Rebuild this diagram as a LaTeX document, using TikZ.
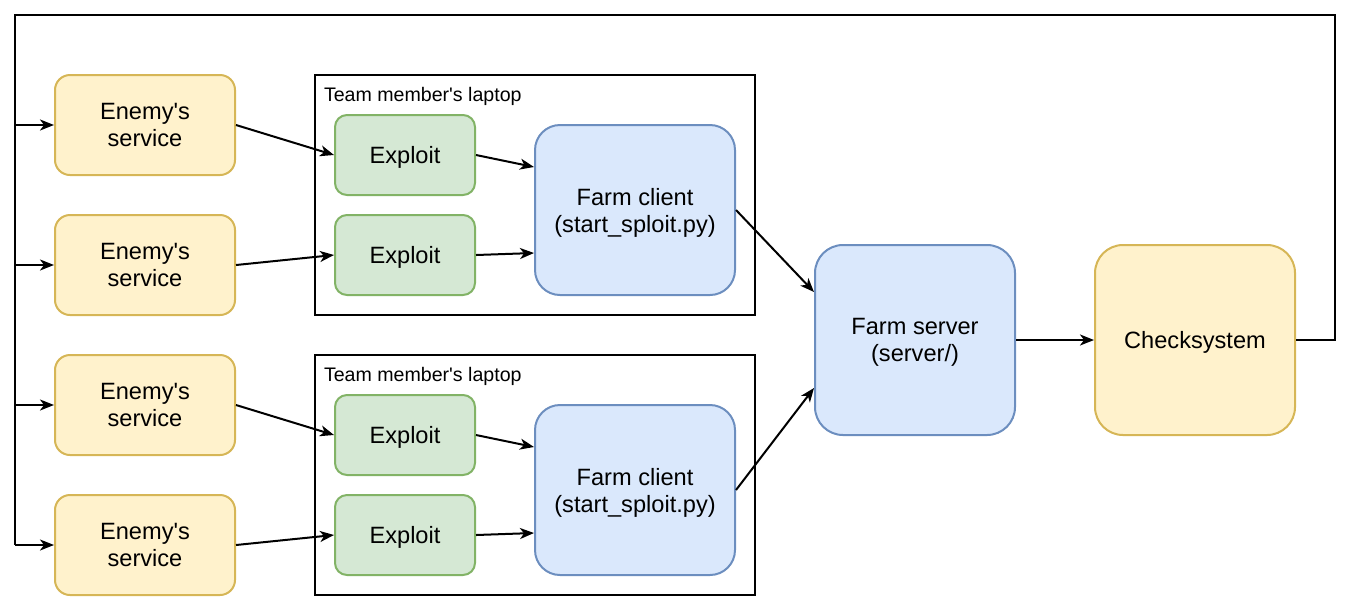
\documentclass[tikz,border=0pt]{standalone}
\usepackage{fontspec}
\setmainfont{Liberation Sans}
\usetikzlibrary{arrows.meta,calc}
\definecolor{yfill}{HTML}{FFF2CC}
\definecolor{ydraw}{HTML}{D6B656}
\definecolor{gfill}{HTML}{D5E8D4}
\definecolor{gdraw}{HTML}{82B366}
\definecolor{bfill}{HTML}{DAE8FC}
\definecolor{bdraw}{HTML}{6C8EBF}
\begin{document}
\begin{tikzpicture}[x=0.5pt,y=-0.5pt,line width=1pt,
  box/.style={draw,inner sep=0pt,align=center,text depth=0pt,font=\fontsize{11.8pt}{13.5pt}\selectfont},
  enemy/.style={box,fill=yfill,draw=ydraw,rounded corners=7.5pt,minimum width=90pt,minimum height=50pt},
  exploit/.style={box,fill=gfill,draw=gdraw,rounded corners=6pt,minimum width=70pt,minimum height=40pt},
  client/.style={box,fill=bfill,draw=bdraw,rounded corners=12.5pt,minimum width=100pt,minimum height=85pt},
  server/.style={box,rounded corners=14pt,minimum width=100pt,minimum height=95pt},
  laptop/.style={draw,minimum width=220pt,minimum height=120pt},
  tag/.style={anchor=base west,inner sep=0pt,font=\fontsize{9.8pt}{12pt}\selectfont},
  arr/.style={-{Stealth[length=7pt,width=5.5pt,inset=2pt]}}]
  \useasboundingbox (0,0) rectangle (1352,596);
  % laptops
  \node[laptop] (l1) at (535,195) {};
  \node[laptop] (l2) at (535,475) {};
  \node[tag] (t1) at (323,101.5) {Team member\textquotesingle s laptop};
  \node[tag] (t2) at (323,381.5) {Team member\textquotesingle s laptop};
  % enemies
  \node[enemy] (e1) at (145,125) {Enemy\textquotesingle s\\service};
  \node[enemy] (e2) at (145,265) {Enemy\textquotesingle s\\service};
  \node[enemy] (e3) at (145,405) {Enemy\textquotesingle s\\service};
  \node[enemy] (e4) at (145,545) {Enemy\textquotesingle s\\service};
  % exploits
  \node[exploit] (x1) at (405,155) {Exploit};
  \node[exploit] (x2) at (405,255) {Exploit};
  \node[exploit] (x3) at (405,435) {Exploit};
  \node[exploit] (x4) at (405,535) {Exploit};
  % farm
  \node[client] (c1) at (635,210) {Farm client\\(start\_sploit.py)};
  \node[client] (c2) at (635,490) {Farm client\\(start\_sploit.py)};
  \node[server,fill=bfill,draw=bdraw] (s) at (915,340) {Farm server\\(server/)};
  \node[server,fill=yfill,draw=ydraw] (k) at (1195,340) {Checksystem};
  % flag loop back to the enemies
  \coordinate (tr) at (1335,15);
  \coordinate (bl) at (15,545);
  \draw (k.east) -| (tr) -| (bl);
  \foreach \i in {1,...,4}
    \draw[arr] (bl |- e\i.west) -- (e\i.west);
  \foreach \i in {1,...,4}
    \draw[arr] (e\i.east) -- (x\i.west);
  \draw[arr] (x1.east) -- ($(c1.north west)!0.25!(c1.south west)$);
  \draw[arr] (x2.east) -- ($(c1.north west)!0.75!(c1.south west)$);
  \draw[arr] (x3.east) -- ($(c2.north west)!0.25!(c2.south west)$);
  \draw[arr] (x4.east) -- ($(c2.north west)!0.75!(c2.south west)$);
  \draw[arr] (c1.east) -- ($(s.north west)!0.25!(s.south west)$);
  \draw[arr] (c2.east) -- ($(s.north west)!0.75!(s.south west)$);
  \draw[arr] (s.east) -- (k.west);
\end{tikzpicture}
\end{document}
